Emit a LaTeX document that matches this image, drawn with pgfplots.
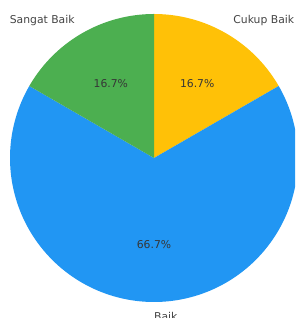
\documentclass[border=0pt]{standalone}
\usepackage{pgfplots}
\pgfplotsset{compat=1.18}
\usepackage{pgfplotstable}
\usepackage{fontspec}
\setmainfont{DejaVu Sans}
\definecolor{cyellow}{HTML}{FFC107}
\definecolor{cblue}{HTML}{2196F3}
\definecolor{cgreen}{HTML}{4CAF50}
\definecolor{ctext}{HTML}{444444}
% slices: label, count (percent shown)
\pgfplotstableread{
label value
{Cukup Baik} 1
{Baik} 4
{Sangat Baik} 1
}\slices
\begin{document}
\begin{tikzpicture}
\begin{axis}[
  width=295pt, height=318pt, scale only axis,
  xmin=0, xmax=295, ymin=0, ymax=318,
  hide axis, clip=true,
]
% centre (154,160), radius 144; start at 90 deg, clockwise
\addplot[draw=none, fill=cyellow, domain=30:90, samples=60]
  ({154+144*cos(x)},{160+144*sin(x)}) -- (axis cs:154,160) -- cycle;
\addplot[draw=none, fill=cblue, domain=-210:30, samples=200]
  ({154+144*cos(x)},{160+144*sin(x)}) -- (axis cs:154,160) -- cycle;
\addplot[draw=none, fill=cgreen, domain=90:150, samples=60]
  ({154+144*cos(x)},{160+144*sin(x)}) -- (axis cs:154,160) -- cycle;
% labels
\tikzset{lbl/.style={inner sep=0pt, text=ctext, font=\fontsize{10.8}{12}\selectfont}}
\node[lbl, anchor=east] at (axis cs:74.8,297.2) {Sangat Baik};
\node[lbl, anchor=west] at (axis cs:233.2,297.2) {Cukup Baik};
\node[lbl, anchor=west] at (axis cs:154,1.6) {Baik};
% percentages
\tikzset{pct/.style={inner sep=0pt, text=ctext!80!black, font=\fontsize{10.8}{12}\selectfont}}
\node[pct] at (axis cs:110.8,234.8) {16.7\%};
\node[pct] at (axis cs:197.2,234.8) {16.7\%};
\node[pct] at (axis cs:154,73.6) {66.7\%};
\end{axis}
\pgfresetboundingbox
\useasboundingbox (current axis.south west) rectangle (current axis.north east);
\end{tikzpicture}
\end{document}
